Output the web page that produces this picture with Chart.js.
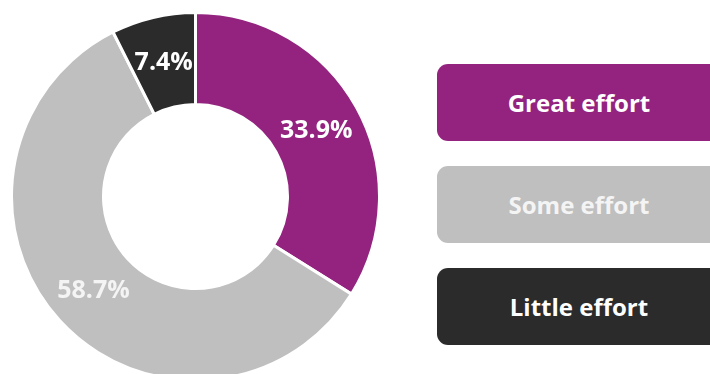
<!DOCTYPE html>
<html>
<head>
<meta charset="utf-8">
<script src="https://cdn.jsdelivr.net/npm/chart.js@4"></script>
<style>
  html, body { margin:0; padding:0; background:#fff; width:710px; height:374px; overflow:hidden; position:relative; }
  #ring { position:absolute; left:10px; top:11px; width:371px; height:371px; }
  .key { position:absolute; left:437px; width:284px; height:77px; border-radius:11px;
         display:flex; align-items:center; justify-content:center;
         font:bold 24px "Open Sans", sans-serif; color:#fff; box-sizing:border-box; }
</style>
</head>
<body>
<div id="ring"><canvas id="c"></canvas></div>
<div id="keys"></div>
<script>
const labels = ['Great effort', 'Some effort', 'Little effort'];
const shares = [33.9, 58.7, 7.4];
const colors = ['#93237f', '#bfbfbf', '#2b2b2b'];
const textColors = ['#ffffff', '#f4f4f4', '#ffffff'];

// legend boxes on the right
const keyTops = [64, 166, 268];
const keys = document.getElementById('keys');
labels.forEach((l, i) => {
  const d = document.createElement('div');
  d.className = 'key';
  d.style.top = keyTops[i] + 'px';
  d.style.background = colors[i];
  d.style.color = textColors[i];
  d.textContent = l;
  keys.appendChild(d);
});

const pctLabels = {
  id: 'pct',
  afterDatasetsDraw(chart) {
    const {ctx} = chart;
    const ds = chart.data.datasets[0];
    chart.getDatasetMeta(0).data.forEach((arc, i) => {
      const pos = arc.tooltipPosition();
      ctx.save();
      ctx.fillStyle = textColors[i];
      ctx.font = 'bold 25px "Open Sans"';
      ctx.textAlign = 'center';
      ctx.textBaseline = 'middle';
      ctx.fillText(`${ds.data[i].toFixed(1)}%`, pos.x, pos.y + 1);
      ctx.restore();
    });
  }
};

new Chart(document.getElementById('c'), {
  type: 'doughnut',
  data: {
    labels,
    datasets: [{
      data: shares,
      backgroundColor: colors,
      borderColor: '#ffffff',
      borderWidth: 3
    }]
  },
  options: {
    responsive: true,
    maintainAspectRatio: false,
    animation: false,
    cutout: '50%',
    layout: { padding: 0 },
    plugins: { legend: { display: false }, tooltip: { enabled: false } }
  },
  plugins: [pctLabels]
});
</script>
</body>
</html>
